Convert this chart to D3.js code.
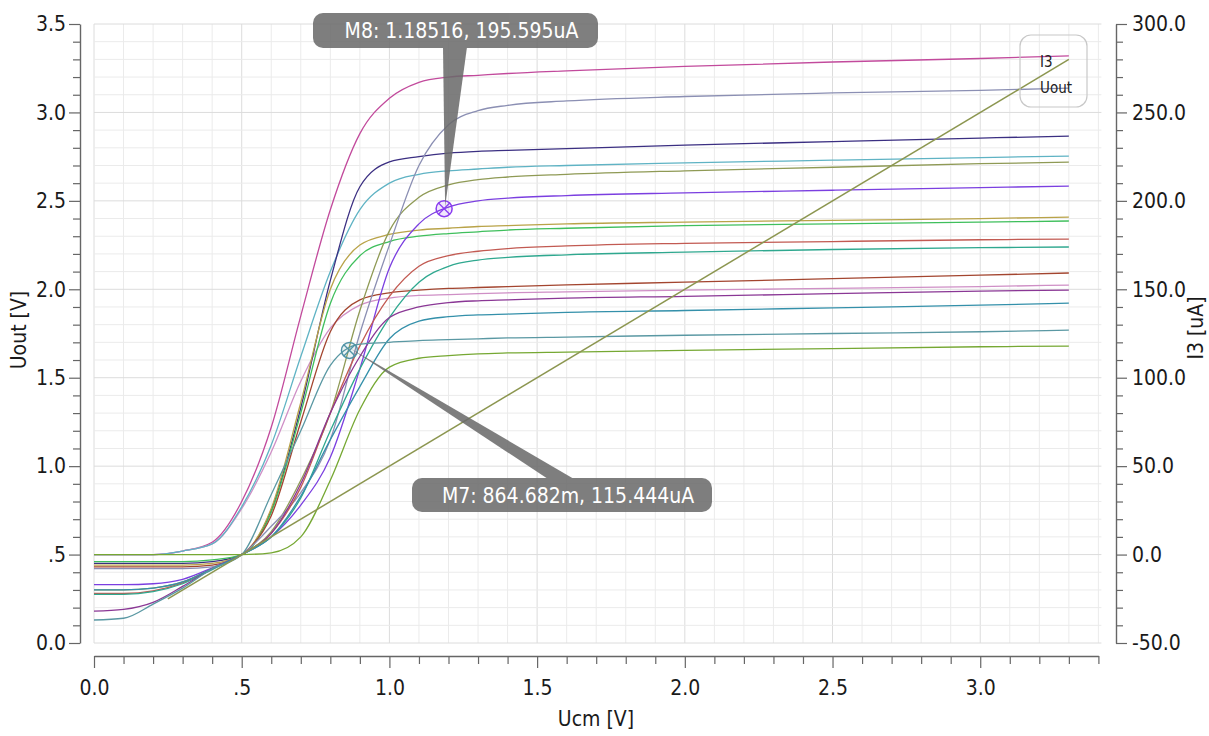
<!DOCTYPE html>
<html><head><meta charset="utf-8">
<script src="https://cdn.jsdelivr.net/npm/d3@7/dist/d3.min.js"></script>
<style>
body{margin:0;background:#fff;}
svg{display:block;}
text{font-family:'DejaVu Sans Condensed','DejaVu Sans',sans-serif;font-stretch:condensed;}
</style></head>
<body>
<svg id="c" width="1209" height="736"></svg>
<script>
// ---- data ----
const sweepX = [0,0.1,0.2,0.3,0.4,0.5,0.6,0.7,0.8,0.9,1.0,1.1,1.2,1.3,1.4,1.6,2.0,2.5,3.0,3.3];
// I3 curves (uA), one per parametric run
const i3Magenta  = [0,0,0,2,7,30,72,135,195,238,258,267,270,271,272,273.5,276,278.5,280.5,282];
const i3Pink     = [0,0,0,2,6,26,58,98,128,141,145,146.5,147,147.5,148,148.5,149.5,150.5,151.5,152.4];
const i3LtTeal   = [0,0,0,2,6,27,62,112,160,195,210,215,217,218,219,220,221.5,223,224.5,225.3];
const i3Navy     = [-5,-5,-5,-5,-4,0,25,83,155,208,222,225,227,228,228.5,229.5,231.5,233.5,235.5,236.6];
const i3Tan      = [-6,-6,-6,-6,-5,0,26,86,150,175,181,183.5,184.5,185.5,186,187,188,189,190,190.8];
const i3Green    = [-4,-4,-4,-4,-3,0,24,80,142,169,177,180,181.5,182.5,183.5,184.5,186,187,188,188.6];
const i3Brown    = [-7,-7,-7,-7,-6,0,22,75,126,144,148,149.5,150.5,151,151.5,152.5,154,156,158,159.2];
const i3Violet   = [-17,-17,-16.5,-14,-7.5,0,10,28,55,105,162,187,196.5,200,201.5,203,204.5,206,207.5,208.3];
const i3Olive    = [-20,-20,-19,-15.5,-8,0,13,42,80,138,183,202,209,212,213.5,215,217,219,221,221.9];
const i3Slate    = [-8,-8,-8,-8,-7,0,16,35,65,125,175,220,243,251,254,256.5,259,261,262.5,263.7];
const i3Red      = [-22,-22,-20.5,-16,-8,0,12,38,80,118,146,163,169,171.5,173,174.5,176,177,178,178.4];
const i3TealGrn  = [-22.5,-22.5,-21,-16.5,-8.5,0,10,32,70,105,134,154,163,166.5,168,169.5,171,172.5,173.5,173.9];
const i3Purple   = [-32,-31,-27,-18,-8,0,12,40,80,112,134,140,142.5,143.5,144,145,146,147.5,149,149.5];
const i3Teal     = [-20,-20,-19,-15.5,-8,0,10,33,65,95,122,132,134.5,135.5,136,137,138,139.5,141,142.2];
const i3TealGray = [-37,-36,-28,-19,-8,0,34,70,107,119,120,121,121.5,122,122.5,123,124,125,126,126.9];
const i3Lime     = [0,0,0,0,0,0,1,10,42,82,106,111,112.5,113.5,114,114.5,115.5,116.5,117.5,117.9];
const curveSeries = [i3Magenta,i3Pink,i3LtTeal,i3Navy,i3Tan,i3Green,i3Brown,i3Violet,i3Olive,i3Slate,i3Red,i3TealGrn,i3Purple,i3Teal,i3TealGray,i3Lime];
const curveColors = ["#c24a9c","#cf8fc6","#5fb3c4","#3b2f82","#b9a348","#3fbf5c","#a3452f","#7b3fe0","#8f9a55","#8b8fb3","#c25a52","#2fa88f","#8a3795","#3490aa","#5a98a3","#76a833"];
// Uout straight line (V, left axis)
const uoutX = [0.25,3.3];
const uoutY = [0.25,3.3];
// markers
const markerNames = ["M8","M7"];
const markerX = [1.18516,0.864682];
const markerY = [195.595,115.444];
const markerText = ["M8: 1.18516, 195.595uA","M7: 864.682m, 115.444uA"];
// ticks
const xTicks = [0,0.5,1.0,1.5,2.0,2.5,3.0];
const xTickLabels = ["0.0",".5","1.0","1.5","2.0","2.5","3.0"];
const yLTicks = [0,0.5,1.0,1.5,2.0,2.5,3.0,3.5];
const yLTickLabels = ["0.0",".5","1.0","1.5","2.0","2.5","3.0","3.5"];
const yRTicks = [-50,0,50,100,150,200,250,300];
const yRTickLabels = ["-50.0","0.0","50.0","100.0","150.0","200.0","250.0","300.0"];
const legendLabels = ["I3","Uout"];

// ---- layout ----
const svg = d3.select("#c");
const X0=94, X1=1098.4, YT=24, YB=643;
const x = d3.scaleLinear().domain([0,3.4]).range([X0,X1]);
const yL = d3.scaleLinear().domain([0,3.5]).range([YB,YT]);
const yR = d3.scaleLinear().domain([-50,300]).range([YB,YT]);

// grid
const g = svg.append("g");
const vMinor = d3.range(0,35).map(i=>i/10);
g.selectAll(".vg").data(vMinor).enter().append("line")
  .attr("x1",d=>x(d)).attr("x2",d=>x(d)).attr("y1",YT).attr("y2",YB)
  .attr("stroke",(d,i)=>i%5===0?"#dcdcdc":"#ebebeb").attr("stroke-width",1);
const hMinor = d3.range(0,36).map(i=>i/10);
g.selectAll(".hg").data(hMinor).enter().append("line")
  .attr("x1",X0).attr("x2",X1+3).attr("y1",d=>yL(d)).attr("y2",d=>yL(d))
  .attr("stroke",(d,i)=>i%5===0?"#dcdcdc":"#ebebeb").attr("stroke-width",1);

// axes
function styleAxis(sel){
  sel.selectAll("path").attr("stroke","#666").attr("stroke-width",1.4);
  sel.selectAll("line").attr("stroke","#666").attr("stroke-width",1.2);
  sel.selectAll("text").attr("fill","#1a1a1a").style("font-size","21px");
}
const axL = svg.append("g").attr("transform","translate(80,0)")
  .call(d3.axisLeft(yL).tickValues(yLTicks).tickFormat((d,i)=>yLTickLabels[i]).tickSize(11).tickSizeOuter(0).tickPadding(3));
styleAxis(axL);
svg.append("g").attr("transform","translate(80,0)")
  .call(d3.axisLeft(yL).tickValues(d3.range(0,36).map(i=>i/10).filter((d,i)=>i%5)).tickFormat("").tickSize(7).tickSizeOuter(0))
  .call(s=>{s.select("path").remove(); styleAxis(s);});
const axR = svg.append("g").attr("transform","translate(1116,0)")
  .call(d3.axisRight(yR).tickValues(yRTicks).tickFormat((d,i)=>yRTickLabels[i]).tickSize(11).tickSizeOuter(0).tickPadding(5));
styleAxis(axR);
svg.append("g").attr("transform","translate(1116,0)")
  .call(d3.axisRight(yR).tickValues(d3.range(-50,301,10).filter(d=>d%50)).tickFormat("").tickSize(7).tickSizeOuter(0))
  .call(s=>{s.select("path").remove(); styleAxis(s);});
const axB = svg.append("g").attr("transform","translate(0,656)")
  .call(d3.axisBottom(x).tickValues(xTicks).tickFormat((d,i)=>xTickLabels[i]).tickSize(12).tickSizeOuter(0).tickPadding(12));
styleAxis(axB);
svg.append("g").attr("transform","translate(0,656)")
  .call(d3.axisBottom(x).tickValues(d3.range(0,35).map(i=>i/10).filter((d,i)=>i%5)).tickFormat("").tickSize(8).tickSizeOuter(0))
  .call(s=>{s.select("path").remove(); styleAxis(s);});

// axis titles
svg.append("text").attr("x",596).attr("y",726).attr("text-anchor","middle")
  .style("font-size","21px").attr("fill","#1a1a1a").text("Ucm [V]");
svg.append("text").attr("transform","translate(26,330) rotate(-90)").attr("text-anchor","middle")
  .style("font-size","21px").attr("fill","#1a1a1a").text("Uout [V]");
svg.append("text").attr("transform","translate(1203,328) rotate(-90)").attr("text-anchor","middle")
  .style("font-size","21px").attr("fill","#1a1a1a").text("I3 [uA]");

// curves
const lineR = d3.line().x((d,i)=>x(sweepX[i])).y(d=>yR(d)).curve(d3.curveMonotoneX);
svg.append("g").selectAll("path").data(curveSeries).enter().append("path")
  .attr("d",d=>lineR(d)).attr("fill","none")
  .attr("stroke",(d,i)=>curveColors[i]).attr("stroke-width",1.3);
const lineL = d3.line().x(d=>x(d[0])).y(d=>yL(d[1]));
svg.append("path").attr("d",lineL(uoutX.map((v,i)=>[v,uoutY[i]])))
  .attr("fill","none").attr("stroke","#8c9650").attr("stroke-width",1.5);

// markers
const mColors = ["#8a3cf0","#4f93a6"];
markerX.forEach((mx,i)=>{
  const cx=x(mx), cy=yR(markerY[i]), r=8;
  const mg=svg.append("g");
  mg.append("circle").attr("cx",cx).attr("cy",cy).attr("r",r).attr("fill",mColors[i]).attr("fill-opacity",0.12)
    .attr("stroke",mColors[i]).attr("stroke-width",1.5);
  const k=r*0.7;
  mg.append("line").attr("x1",cx-k).attr("y1",cy-k).attr("x2",cx+k).attr("y2",cy+k).attr("stroke",mColors[i]).attr("stroke-width",1.3);
  mg.append("line").attr("x1",cx-k).attr("y1",cy+k).attr("x2",cx+k).attr("y2",cy-k).attr("stroke",mColors[i]).attr("stroke-width",1.3);
});

// callouts
function callout(i,bx,by,bw,bh,base){
  const cx=x(markerX[i]), cy=yR(markerY[i]);
  const cg=svg.append("g").attr("opacity",0.86);
  cg.append("rect").attr("x",bx).attr("y",by).attr("width",bw).attr("height",bh).attr("rx",10).attr("fill","#6a6a6a");
  cg.append("path").attr("d",`M${base[0]},${base[1]} L${base[2]},${base[3]} L${cx+1},${cy-2} Z`).attr("fill","#6a6a6a");
  svg.append("text").attr("x",bx+bw/2+6).attr("y",by+bh/2).attr("dy","0.36em").attr("text-anchor","middle")
    .style("font-size","21px").attr("fill","#fff").text(markerText[i]);
}
callout(0,313,13,285,35,[443,47,467,47]);
callout(1,412,478,300,34,[548,479,574,479]);

// legend
svg.append("rect").attr("x",1020).attr("y",35).attr("width",67).attr("height",72).attr("rx",11)
  .attr("fill","none").attr("stroke","#c8c8c8").attr("stroke-width",1.2);
legendLabels.forEach((t,i)=>{
  svg.append("text").attr("x",1040).attr("y",62+i*26).attr("dy","0.35em")
    .style("font-size","15px").attr("fill","#222").text(t);
});
</script>
</body></html>
